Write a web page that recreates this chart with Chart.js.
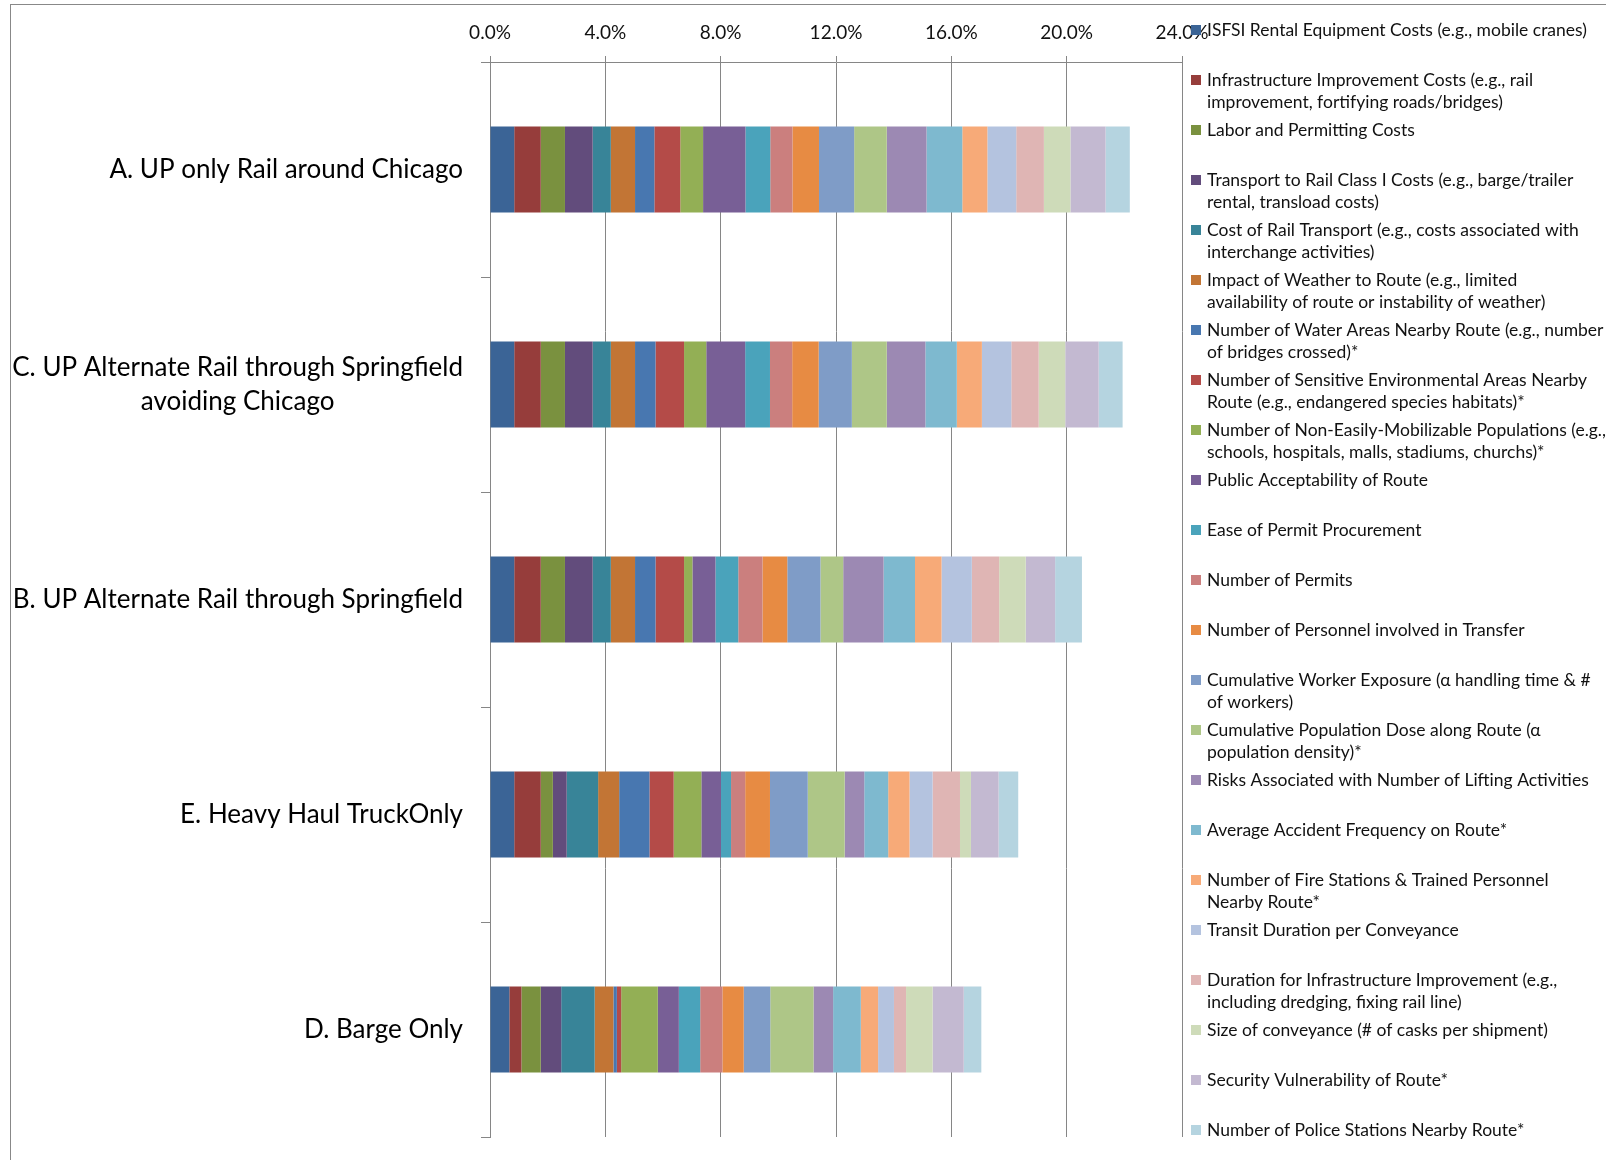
<!DOCTYPE html>
<html>
<head>
<meta charset="utf-8">
<script src="https://cdn.jsdelivr.net/npm/chart.js@4.4.0/dist/chart.umd.min.js"></script>
<style>
  html, body { margin: 0; padding: 0; background: #fff; overflow: hidden; }
  #wrap { position: relative; width: 1606px; height: 1160px; overflow: hidden; }
  #frame { position: absolute; left: 10px; top: 4px; width: 1700px; height: 1300px;
           border-left: 1px solid #888; border-top: 1px solid #888; }
  canvas { position: absolute; left: 0; top: 0; }
</style>
</head>
<body>
<div id="wrap">
  <div id="frame"></div>
  <canvas id="routeChart" width="1606" height="1160"></canvas>
</div>
<script>
// route alternatives, top to bottom
const routeLabels = [
    'A. UP only Rail around Chicago',
    ['C. UP Alternate Rail through Springfield', 'avoiding Chicago'],
    'B. UP Alternate Rail through Springfield',
    'E. Heavy Haul TruckOnly',
    'D. Barge Only'
];

// criteria (legend lines as they wrap)
const criteria = [
    ['ISFSI Rental Equipment Costs (e.g., mobile cranes)'],
    ['Infrastructure Improvement Costs (e.g., rail', 'improvement, fortifying roads/bridges)'],
    ['Labor and Permitting Costs'],
    ['Transport to Rail Class I Costs (e.g., barge/trailer', 'rental, transload costs)'],
    ['Cost of Rail Transport (e.g., costs associated with', 'interchange activities)'],
    ['Impact of Weather to Route (e.g., limited', 'availability of route or instability of weather)'],
    ['Number of Water Areas Nearby Route (e.g., number', 'of bridges crossed)*'],
    ['Number of Sensitive Environmental Areas Nearby', 'Route (e.g., endangered species habitats)*'],
    ['Number of Non-Easily-Mobilizable Populations (e.g.,', 'schools, hospitals, malls, stadiums, churchs)*'],
    ['Public Acceptability of Route'],
    ['Ease of Permit Procurement'],
    ['Number of Permits'],
    ['Number of Personnel involved in Transfer'],
    ['Cumulative Worker Exposure (\u03b1 handling time & #', 'of workers)'],
    ['Cumulative Population Dose along Route (\u03b1', 'population density)*'],
    ['Risks Associated with Number of Lifting Activities'],
    ['Average Accident Frequency on Route*'],
    ['Number of Fire Stations & Trained Personnel', 'Nearby Route*'],
    ['Transit Duration per Conveyance'],
    ['Duration for Infrastructure Improvement (e.g.,', 'including dredging, fixing rail line)'],
    ['Size of conveyance (# of casks per shipment)'],
    ['Security Vulnerability of Route*'],
    ['Number of Police Stations Nearby Route*']
];

// weighted score (%) per criterion for each route
const routeA = [0.84, 0.92, 0.84, 0.96, 0.63, 0.84, 0.67, 0.90, 0.79, 1.47, 0.86, 0.77, 0.92, 1.22, 1.13, 1.38, 1.24, 0.87, 1.00, 0.96, 0.92, 1.22, 0.84];
const routeC = [0.84, 0.92, 0.84, 0.96, 0.63, 0.84, 0.71, 0.99, 0.77, 1.35, 0.86, 0.77, 0.92, 1.15, 1.21, 1.34, 1.09, 0.87, 1.02, 0.95, 0.92, 1.16, 0.83];
const routeB = [0.84, 0.92, 0.84, 0.96, 0.63, 0.84, 0.71, 0.99, 0.29, 0.80, 0.79, 0.84, 0.86, 1.15, 0.79, 1.40, 1.09, 0.92, 1.05, 0.95, 0.92, 1.02, 0.93];
const routeE = [0.84, 0.92, 0.42, 0.48, 1.09, 0.73, 1.05, 0.84, 0.96, 0.68, 0.35, 0.49, 0.86, 1.31, 1.28, 0.68, 0.83, 0.74, 0.80, 0.95, 0.38, 0.96, 0.68];
const routeD = [0.67, 0.42, 0.67, 0.71, 1.16, 0.65, 0.12, 0.15, 1.27, 0.73, 0.74, 0.77, 0.74, 0.92, 1.50, 0.68, 0.96, 0.60, 0.55, 0.42, 0.92, 1.08, 0.61];

const axisTicks = [0, 4, 8, 12, 16, 20, 24];

const palette = [
    '#3b6496', '#963d3b', '#7a913f', '#624c7c', '#388498', '#c27535',
    '#4877b0', '#b44b48', '#93af55', '#785f96', '#4aa3bb', '#cb7f7e',
    '#e78b43', '#7f9cc7', '#aec687', '#9c89b3', '#7eb9cf', '#f7aa78',
    '#b4c3df', '#dfb5b4', '#cedbb9', '#c3b9d1', '#b5d4e0'
];

const byRoute = [routeA, routeC, routeB, routeE, routeD];

const datasets = criteria.map((lines, i) => ({
    label: lines.join(' '),
    data: byRoute.map(r => r[i]),
    backgroundColor: palette[i],
    borderWidth: 0
}));

const gridGray = '#868686';

// category labels (right-aligned block, lines centred) and the wrapped legend
const sideText = {
    id: 'sideText',
    afterDraw(chart) {
        const ctx = chart.ctx;
        const yScale = chart.scales.y;
        ctx.save();
        ctx.fillStyle = '#000';
        ctx.textBaseline = 'middle';
        ctx.textAlign = 'center';
        ctx.font = '26px Lato';
        routeLabels.forEach((lab, i) => {
            const lines = Array.isArray(lab) ? lab : [lab];
            const yc = yScale.getPixelForValue(i);
            const blockW = Math.max(...lines.map(l => ctx.measureText(l).width));
            const cx = yScale.right - 27 - blockW / 2;
            lines.forEach((l, k) => {
                ctx.fillText(l, cx, yc + (k - (lines.length - 1) / 2) * 34.5);
            });
        });

        ctx.textAlign = 'left';
        ctx.font = '17.5px Lato';
        criteria.forEach((lines, i) => {
            const y0 = 30 + i * 50;
            ctx.fillStyle = palette[i];
            ctx.fillRect(1191, y0 - 5, 10, 10);
            ctx.fillStyle = '#111';
            lines.forEach((l, k) => ctx.fillText(l, 1207, y0 + k * 22.5));
        });
        ctx.restore();
    }
};

function drawChart() {
    Chart.defaults.font.family = 'Lato';
    new Chart(document.getElementById('routeChart'), {
        type: 'bar',
        data: { labels: routeLabels, datasets: datasets },
        options: {
            indexAxis: 'y',
            responsive: false,
            animation: false,
            devicePixelRatio: 1,
            layout: { padding: { left: 0, top: 0, right: 424, bottom: 23 } },
            plugins: {
                legend: { display: false },
                tooltip: { enabled: false }
            },
            datasets: { bar: { barPercentage: 0.4, categoryPercentage: 1 } },
            scales: {
                x: {
                    position: 'top',
                    stacked: true,
                    min: 0,
                    max: 24,
                    afterFit(scale) { scale.height = 62; },
                    afterBuildTicks(scale) { scale.ticks = axisTicks.map(v => ({ value: v })); },
                    ticks: {
                        padding: 12,
                        color: '#111',
                        font: { size: 19 },
                        callback: v => v.toFixed(1) + '%'
                    },
                    grid: { color: gridGray, tickLength: 6, lineWidth: 1 },
                    border: { color: gridGray }
                },
                y: {
                    stacked: true,
                    afterFit(scale) { scale.width = 490; },
                    ticks: { display: false },
                    grid: { drawOnChartArea: false, tickLength: 9, color: gridGray, offset: true },
                    border: { color: gridGray }
                }
            }
        },
        plugins: [sideText]
    });
}

document.fonts.load('26px Lato').then(drawChart, drawChart);
</script>
</body>
</html>
